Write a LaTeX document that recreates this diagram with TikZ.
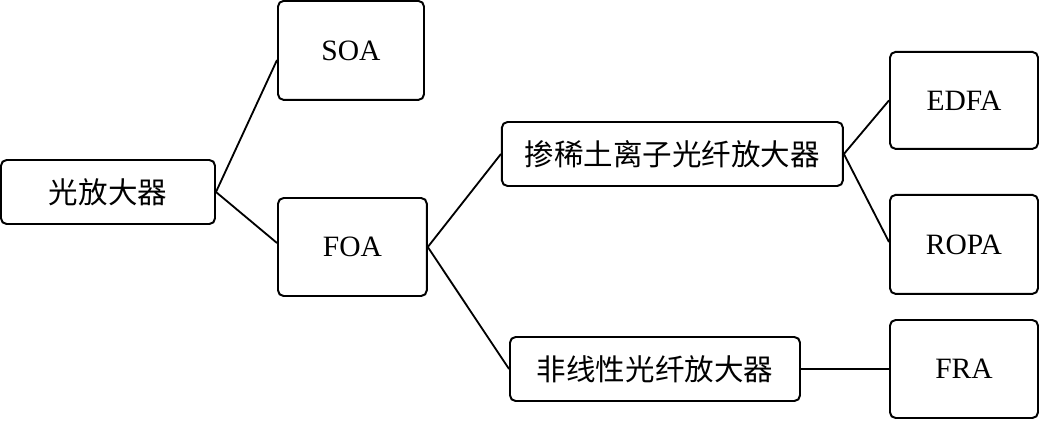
\documentclass[tikz,border=0pt]{standalone}
\usepackage{fontspec}
\setmainfont{Liberation Serif}
\newfontfamily\cjk{Noto Sans CJK SC}
\usepackage{tikz}

\begin{document}
\begin{tikzpicture}[x=1cm,y=1cm,
  font=\fontsize{21}{25}\selectfont,
  box/.style={draw, rounded corners=4pt, line width=1.4pt, inner sep=2pt, align=center},
  wide/.style={box, minimum height=1.6cm},
  tall/.style={box, minimum width=3.7cm, minimum height=2.45cm},
  conn/.style={draw=black, line width=1.3pt},
]
\useasboundingbox (0,0) rectangle (26.025,-10.5);
% ---------------- first level ----------------
\node[wide, minimum width=5.35cm] (amp) at (2.70,-4.80) {\cjk 光放大器};
\node[tall, minimum width=3.65cm, minimum height=2.475cm] (soa) at (8.775,-1.26) {SOA};
\node[tall, minimum width=3.72cm] (foa) at (8.81,-6.175) {FOA};
\draw[conn] (amp.east) -- ([yshift=-0.24cm]soa.west);
\draw[conn] (amp.east) -- ([yshift=0.1cm]foa.west);
% ---------------- fibre amplifiers ----------------
\node[wide, minimum width=8.525cm] (rare) at (16.81,-3.85) {\cjk 掺稀土离子光纤放大器};
\node[wide, minimum width=7.25cm] (nonlin) at (16.375,-9.225) {\cjk 非线性光纤放大器};
\draw[conn] (foa.east) -- (rare.west);
\draw[conn] (foa.east) -- (nonlin.west);
% ---------------- leaves ----------------
\node[tall, minimum height=2.425cm] (edfa) at (24.1,-2.51) {EDFA};
\node[tall, minimum height=2.475cm] (ropa) at (24.1,-6.11) {ROPA};
\node[tall] (fra) at (24.1,-9.225) {FRA};
\draw[conn] (rare.east) -- (edfa.west);
\draw[conn] (rare.east) -- ([yshift=0.06cm]ropa.west);
\draw[conn] (nonlin.east) -- (fra.west);
\end{tikzpicture}
\end{document}
